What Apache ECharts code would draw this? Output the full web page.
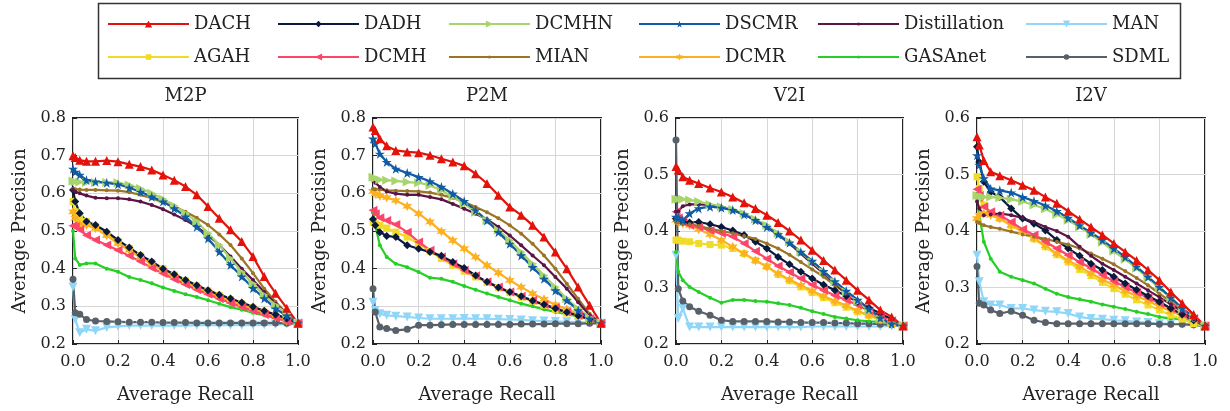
<!DOCTYPE html>
<html>
<head>
<meta charset="utf-8">
<script src="https://cdn.jsdelivr.net/npm/echarts@6/dist/echarts.min.js"></script>
<style>html,body{margin:0;padding:0;background:#fff}#c{width:1230px;height:411px}</style>
</head>
<body>
<div id="c"></div>
<script>
// ---------- data ----------
const recall = [0, 0.01, 0.03, 0.06, 0.1, 0.15, 0.2, 0.25, 0.3, 0.35, 0.4, 0.45, 0.5, 0.55, 0.6, 0.65, 0.7, 0.75, 0.8, 0.85, 0.9, 0.95, 1.0];
const panels = ['M2P', 'P2M', 'V2I', 'I2V'];
const methods = ['DACH','DADH','DCMHN','DSCMR','Distillation','MAN','AGAH','DCMH','MIAN','DCMR','GASAnet','SDML'];
const xTicks = ['0.0','0.2','0.4','0.6','0.8','1.0'];

// M2P
const M2P_DACH = [0.700,0.695,0.688,0.685,0.685,0.687,0.684,0.677,0.671,0.662,0.649,0.635,0.618,0.596,0.565,0.534,0.503,0.472,0.432,0.379,0.335,0.295,0.255];
const M2P_DSCMR = [0.665,0.657,0.649,0.635,0.631,0.628,0.624,0.615,0.604,0.591,0.578,0.560,0.538,0.511,0.480,0.445,0.410,0.379,0.348,0.321,0.294,0.275,0.255];
const M2P_DCMHN = [0.633,0.631,0.630,0.629,0.629,0.629,0.628,0.622,0.613,0.600,0.585,0.567,0.547,0.525,0.494,0.463,0.427,0.391,0.360,0.330,0.303,0.281,0.255];
const M2P_MIAN = [0.611,0.611,0.610,0.609,0.609,0.608,0.607,0.603,0.596,0.587,0.576,0.565,0.551,0.535,0.516,0.491,0.463,0.427,0.388,0.347,0.312,0.281,0.255];
const M2P_Distillation = [0.609,0.605,0.600,0.594,0.588,0.587,0.587,0.584,0.578,0.569,0.558,0.544,0.529,0.511,0.489,0.463,0.432,0.400,0.370,0.338,0.307,0.281,0.255];
const M2P_DADH = [0.609,0.578,0.547,0.525,0.516,0.498,0.476,0.456,0.436,0.419,0.400,0.385,0.370,0.356,0.343,0.331,0.321,0.310,0.299,0.288,0.278,0.268,0.255];
const M2P_AGAH = [0.578,0.551,0.534,0.525,0.511,0.491,0.471,0.454,0.434,0.416,0.400,0.383,0.368,0.354,0.341,0.329,0.318,0.307,0.296,0.285,0.274,0.264,0.255];
const M2P_DCMR = [0.551,0.534,0.518,0.516,0.507,0.488,0.467,0.449,0.430,0.412,0.394,0.378,0.363,0.350,0.336,0.325,0.313,0.303,0.292,0.282,0.272,0.262,0.255];
const M2P_DCMH = [0.514,0.511,0.503,0.489,0.476,0.463,0.449,0.434,0.419,0.402,0.387,0.372,0.358,0.344,0.332,0.320,0.309,0.298,0.288,0.278,0.269,0.260,0.255];
const M2P_GASAnet = [0.500,0.427,0.410,0.414,0.414,0.400,0.392,0.378,0.370,0.361,0.350,0.341,0.332,0.325,0.316,0.307,0.298,0.291,0.283,0.276,0.270,0.263,0.255];
const M2P_SDML = [0.372,0.283,0.279,0.265,0.261,0.260,0.259,0.258,0.258,0.258,0.257,0.257,0.257,0.256,0.256,0.256,0.256,0.256,0.256,0.256,0.256,0.255,0.255];
const M2P_MAN = [0.351,0.265,0.230,0.239,0.235,0.244,0.247,0.249,0.249,0.249,0.249,0.249,0.249,0.250,0.250,0.250,0.250,0.250,0.250,0.251,0.252,0.253,0.255];

// P2M
const P2M_DACH = [0.776,0.767,0.745,0.726,0.714,0.710,0.708,0.701,0.692,0.683,0.673,0.652,0.626,0.595,0.564,0.542,0.515,0.484,0.444,0.400,0.351,0.303,0.255];
const P2M_DSCMR = [0.745,0.732,0.705,0.683,0.665,0.654,0.643,0.632,0.617,0.599,0.579,0.555,0.528,0.497,0.466,0.435,0.404,0.373,0.342,0.316,0.289,0.267,0.255];
const P2M_DCMHN = [0.643,0.640,0.636,0.635,0.633,0.630,0.628,0.621,0.608,0.590,0.572,0.550,0.528,0.502,0.475,0.444,0.413,0.382,0.351,0.320,0.294,0.270,0.255];
const P2M_Distillation = [0.635,0.628,0.617,0.605,0.599,0.596,0.596,0.590,0.584,0.572,0.559,0.546,0.531,0.511,0.488,0.462,0.435,0.409,0.378,0.347,0.311,0.276,0.255];
const P2M_MIAN = [0.612,0.611,0.610,0.608,0.607,0.606,0.605,0.602,0.596,0.588,0.577,0.564,0.550,0.534,0.515,0.493,0.466,0.435,0.400,0.360,0.320,0.280,0.255];
const P2M_DCMR = [0.605,0.599,0.593,0.589,0.581,0.566,0.546,0.524,0.499,0.475,0.453,0.431,0.409,0.389,0.369,0.351,0.334,0.319,0.304,0.292,0.280,0.269,0.255];
const P2M_DCMH = [0.555,0.546,0.535,0.528,0.517,0.497,0.471,0.449,0.431,0.413,0.396,0.381,0.365,0.351,0.338,0.327,0.316,0.305,0.296,0.285,0.276,0.267,0.255];
const P2M_AGAH = [0.524,0.519,0.515,0.508,0.497,0.484,0.466,0.446,0.427,0.409,0.393,0.378,0.363,0.349,0.336,0.324,0.313,0.303,0.292,0.282,0.274,0.265,0.255];
const P2M_DADH = [0.531,0.515,0.497,0.487,0.484,0.462,0.453,0.444,0.434,0.418,0.402,0.382,0.365,0.350,0.338,0.327,0.315,0.305,0.294,0.284,0.275,0.266,0.255];
const P2M_GASAnet = [0.550,0.515,0.462,0.431,0.413,0.404,0.391,0.376,0.373,0.365,0.354,0.344,0.334,0.325,0.316,0.307,0.300,0.292,0.285,0.279,0.273,0.266,0.255];
const P2M_SDML = [0.347,0.285,0.245,0.241,0.236,0.239,0.250,0.250,0.251,0.252,0.252,0.252,0.252,0.252,0.252,0.253,0.253,0.253,0.254,0.254,0.254,0.255,0.255];
const P2M_MAN = [0.311,0.289,0.280,0.276,0.274,0.272,0.269,0.267,0.267,0.267,0.268,0.267,0.267,0.266,0.265,0.264,0.262,0.261,0.260,0.259,0.258,0.257,0.255];

// V2I
const V2I_DACH = [0.514,0.508,0.496,0.490,0.484,0.476,0.469,0.460,0.450,0.440,0.428,0.415,0.400,0.384,0.366,0.348,0.331,0.313,0.295,0.278,0.260,0.248,0.232];
const V2I_DCMHN = [0.456,0.456,0.456,0.455,0.452,0.447,0.443,0.438,0.431,0.421,0.410,0.396,0.381,0.363,0.345,0.328,0.310,0.292,0.275,0.258,0.244,0.238,0.232];
const V2I_Distillation = [0.434,0.435,0.444,0.447,0.447,0.446,0.443,0.437,0.429,0.419,0.407,0.393,0.378,0.360,0.342,0.325,0.307,0.289,0.273,0.258,0.244,0.237,0.232];
const V2I_DSCMR = [0.425,0.423,0.419,0.431,0.440,0.443,0.441,0.437,0.429,0.419,0.407,0.394,0.379,0.363,0.347,0.329,0.311,0.294,0.278,0.262,0.246,0.236,0.232];
const V2I_DADH = [0.422,0.419,0.416,0.415,0.416,0.412,0.407,0.401,0.393,0.381,0.369,0.354,0.341,0.328,0.316,0.305,0.295,0.285,0.275,0.264,0.254,0.244,0.232];
const V2I_MIAN = [0.416,0.415,0.413,0.412,0.409,0.404,0.400,0.396,0.391,0.386,0.378,0.369,0.358,0.345,0.332,0.319,0.304,0.289,0.275,0.260,0.248,0.236,0.232];
const V2I_DCMH = [0.434,0.423,0.416,0.410,0.407,0.401,0.396,0.390,0.378,0.364,0.351,0.338,0.327,0.316,0.305,0.295,0.286,0.278,0.269,0.259,0.250,0.241,0.232];
const V2I_DCMR = [0.419,0.416,0.413,0.410,0.403,0.394,0.384,0.372,0.360,0.348,0.337,0.325,0.314,0.304,0.294,0.285,0.276,0.268,0.259,0.251,0.244,0.236,0.232];
const V2I_AGAH = [0.384,0.384,0.382,0.381,0.378,0.376,0.375,0.369,0.360,0.348,0.337,0.323,0.312,0.301,0.291,0.282,0.273,0.265,0.257,0.250,0.243,0.236,0.232];
const V2I_GASAnet = [0.363,0.328,0.313,0.301,0.292,0.282,0.273,0.278,0.278,0.276,0.275,0.272,0.269,0.264,0.258,0.253,0.248,0.245,0.242,0.240,0.239,0.237,0.232];
const V2I_SDML = [0.561,0.298,0.276,0.266,0.258,0.251,0.242,0.240,0.240,0.240,0.240,0.239,0.239,0.238,0.238,0.238,0.237,0.237,0.236,0.236,0.235,0.234,0.232];
const V2I_MAN = [0.357,0.245,0.263,0.230,0.230,0.230,0.230,0.230,0.230,0.230,0.230,0.230,0.230,0.230,0.231,0.231,0.231,0.231,0.231,0.231,0.231,0.232,0.232];

// I2V
const I2V_DACH = [0.567,0.552,0.525,0.505,0.498,0.490,0.481,0.472,0.460,0.449,0.435,0.421,0.407,0.393,0.378,0.363,0.348,0.331,0.313,0.292,0.272,0.252,0.232];
const I2V_DADH = [0.549,0.522,0.487,0.469,0.460,0.440,0.422,0.413,0.401,0.384,0.369,0.356,0.342,0.331,0.319,0.307,0.296,0.285,0.275,0.263,0.252,0.242,0.232];
const I2V_DSCMR = [0.534,0.517,0.493,0.475,0.472,0.468,0.460,0.453,0.445,0.435,0.423,0.410,0.397,0.384,0.369,0.354,0.337,0.319,0.301,0.282,0.263,0.248,0.232];
const I2V_DCMHN = [0.463,0.462,0.460,0.460,0.459,0.456,0.452,0.446,0.439,0.429,0.419,0.407,0.394,0.380,0.364,0.350,0.334,0.317,0.299,0.281,0.262,0.247,0.232];
const I2V_AGAH = [0.496,0.475,0.446,0.431,0.422,0.410,0.399,0.386,0.372,0.358,0.345,0.332,0.321,0.309,0.298,0.288,0.278,0.269,0.260,0.251,0.244,0.236,0.232];
const I2V_DCMH = [0.474,0.463,0.443,0.434,0.428,0.416,0.403,0.393,0.381,0.369,0.357,0.345,0.334,0.322,0.311,0.301,0.291,0.282,0.272,0.263,0.253,0.245,0.232];
const I2V_DCMR = [0.422,0.428,0.431,0.428,0.422,0.410,0.399,0.387,0.374,0.360,0.348,0.337,0.325,0.314,0.304,0.294,0.285,0.276,0.267,0.258,0.250,0.242,0.232];
const I2V_Distillation = [0.452,0.440,0.428,0.429,0.431,0.428,0.423,0.416,0.407,0.400,0.390,0.372,0.356,0.342,0.331,0.319,0.307,0.295,0.283,0.270,0.257,0.244,0.232];
const I2V_MIAN = [0.416,0.414,0.410,0.407,0.404,0.399,0.394,0.390,0.386,0.381,0.376,0.369,0.360,0.351,0.341,0.329,0.317,0.304,0.289,0.275,0.258,0.242,0.232];
const I2V_GASAnet = [0.463,0.428,0.381,0.351,0.328,0.319,0.313,0.307,0.298,0.289,0.283,0.279,0.275,0.270,0.266,0.262,0.257,0.253,0.248,0.245,0.244,0.242,0.232];
const I2V_SDML = [0.337,0.272,0.269,0.260,0.254,0.258,0.251,0.242,0.238,0.236,0.236,0.236,0.236,0.236,0.236,0.236,0.236,0.236,0.235,0.235,0.235,0.234,0.232];
const I2V_MAN = [0.357,0.310,0.275,0.269,0.269,0.263,0.263,0.260,0.258,0.257,0.254,0.248,0.245,0.244,0.242,0.241,0.239,0.238,0.236,0.236,0.235,0.233,0.232];

const yMax = [0.8, 0.8, 0.6, 0.6];

// ---------- assembly ----------
const tables = {
  M2P: {DACH:M2P_DACH,DADH:M2P_DADH,DCMHN:M2P_DCMHN,DSCMR:M2P_DSCMR,Distillation:M2P_Distillation,MAN:M2P_MAN,AGAH:M2P_AGAH,DCMH:M2P_DCMH,MIAN:M2P_MIAN,DCMR:M2P_DCMR,GASAnet:M2P_GASAnet,SDML:M2P_SDML},
  P2M: {DACH:P2M_DACH,DADH:P2M_DADH,DCMHN:P2M_DCMHN,DSCMR:P2M_DSCMR,Distillation:P2M_Distillation,MAN:P2M_MAN,AGAH:P2M_AGAH,DCMH:P2M_DCMH,MIAN:P2M_MIAN,DCMR:P2M_DCMR,GASAnet:P2M_GASAnet,SDML:P2M_SDML},
  V2I: {DACH:V2I_DACH,DADH:V2I_DADH,DCMHN:V2I_DCMHN,DSCMR:V2I_DSCMR,Distillation:V2I_Distillation,MAN:V2I_MAN,AGAH:V2I_AGAH,DCMH:V2I_DCMH,MIAN:V2I_MIAN,DCMR:V2I_DCMR,GASAnet:V2I_GASAnet,SDML:V2I_SDML},
  I2V: {DACH:I2V_DACH,DADH:I2V_DADH,DCMHN:I2V_DCMHN,DSCMR:I2V_DSCMR,Distillation:I2V_Distillation,MAN:I2V_MAN,AGAH:I2V_AGAH,DCMH:I2V_DCMH,MIAN:I2V_MIAN,DCMR:I2V_DCMR,GASAnet:I2V_GASAnet,SDML:I2V_SDML}
};

const STAR = 'path://M50,0 L61,35 L98,35 L68,57 L79,91 L50,70 L21,91 L32,57 L2,35 L39,35 Z';
const HEX = 'path://M50,0 L62,29 L93,25 L74,50 L93,75 L62,71 L50,100 L38,71 L7,75 L26,50 L7,25 L38,29 Z';
const style = {
  DACH:        {color:'#e3120b', symbol:'triangle', size:9, rot:0, leg:9},
  DADH:        {color:'#0a1a3c', symbol:'diamond', size:8, rot:0, leg:8},
  DCMHN:       {color:'#a8d46c', symbol:'triangle', size:9, rot:-90, leg:9},
  DSCMR:       {color:'#0f5ba5', symbol:STAR, size:10, rot:0, leg:9},
  Distillation:{color:'#5b1446', symbol:'circle', size:4, rot:0, leg:4},
  MAN:         {color:'#8fd6f8', symbol:'triangle', size:9, rot:180, leg:9},
  AGAH:        {color:'#f0dc28', symbol:'rect', size:7, rot:0, leg:7},
  DCMH:        {color:'#fc4569', symbol:'triangle', size:9, rot:90, leg:9},
  MIAN:        {color:'#9b7526', symbol:'circle', size:4, rot:0, leg:4},
  DCMR:        {color:'#fdb020', symbol:HEX, size:10, rot:0, leg:9},
  GASAnet:     {color:'#26cf26', symbol:'circle', size:4, rot:0, leg:4},
  SDML:        {color:'#58616a', symbol:'circle', size:7, rot:0, leg:7}
};
const drawOrder = ['MAN','SDML','GASAnet','AGAH','DCMR','DCMH','DADH','MIAN','Distillation','DCMHN','DSCMR','DACH'];

const FONT = 'DejaVu Serif';
const TXT = '#222';
const gridLefts = [73, 373, 676, 977];
const gridWidths = [225, 228, 227, 228];
const gridTop = 118, gridHeight = 226;

const grids = [], xAxes = [], yAxes = [], titles = [], series = [];
panels.forEach((p, i) => {
  grids.push({left: gridLefts[i], top: gridTop, width: gridWidths[i], height: gridHeight,
    show: true, borderColor: '#222', borderWidth: 2, backgroundColor: '#fff'});
  xAxes.push({type:'value', gridIndex:i, min:0, max:1, interval:0.2,
    name:'Average Recall', nameLocation:'middle', nameGap:42,
    nameTextStyle:{fontFamily:FONT, fontSize:18, color:TXT},
    axisLine:{show:false}, axisTick:{show:true, inside:true, length:4, lineStyle:{color:'#222'}},
    axisLabel:{fontFamily:FONT, fontSize:16, color:TXT, margin:10,
      formatter: v => xTicks[Math.round(v/0.2)]},
    splitLine:{show:true, lineStyle:{color:'#d6d6d6', width:1}}});
  yAxes.push({type:'value', gridIndex:i, min:0.2, max:yMax[i], interval:0.1,
    name:'Average Precision', nameLocation:'middle', nameGap:44,
    nameTextStyle:{fontFamily:FONT, fontSize:18, color:TXT},
    axisLine:{show:false}, axisTick:{show:true, inside:true, length:4, lineStyle:{color:'#222'}},
    axisLabel:{fontFamily:FONT, fontSize:16, color:TXT, margin:7, formatter: v => v.toFixed(1)},
    splitLine:{show:true, lineStyle:{color:'#d6d6d6', width:1}}});
  titles.push({text:p, left: gridLefts[i] + gridWidths[i]/2, top: 87, textAlign:'center', padding:0,
    textStyle:{fontFamily:FONT, fontSize:18, fontWeight:'normal', color:TXT}});
  drawOrder.forEach(m => {
    const s = style[m];
    const vals = tables[p][m];
    series.push({name:m, type:'line', xAxisIndex:i, yAxisIndex:i,
      data: recall.map((x, k) => [x, vals[k]]),
      symbol: s.symbol, symbolSize: s.size, symbolRotate: s.rot, showAllSymbol:true,
      lineStyle:{color:s.color, width:2.2}, itemStyle:{color:s.color, borderWidth:0},
      emphasis:{disabled:true}, silent:true, clip:true});
  });
});

// legend: 6 columns x 2 rows
const legendCols = [107, 277, 448, 638, 817, 1025];
const legendRows = [24, 57];
const legends = methods.map((m, idx) => {
  const row = Math.floor(idx / 6), col = idx % 6;
  return {data:[m], left: legendCols[col], top: legendRows[row] - 10, padding:0,
    itemWidth:81, itemHeight:style[m].leg, selectedMode:false,
    textStyle:{fontFamily:FONT, fontSize:18, color:TXT, lineHeight:20}};
});

const chart = echarts.init(document.getElementById('c'), null, {renderer:'canvas'});
chart.setOption({
  animation:false,
  backgroundColor:'#fff',
  title: titles,
  legend: legends,
  grid: grids,
  xAxis: xAxes,
  yAxis: yAxes,
  series: series,
  graphic: [{type:'rect', shape:{x:98.5, y:3.5, width:1082, height:75},
    style:{fill:'none', stroke:'#333', lineWidth:1.5}, silent:true, z:-1}]
});
</script>
</body>
</html>
